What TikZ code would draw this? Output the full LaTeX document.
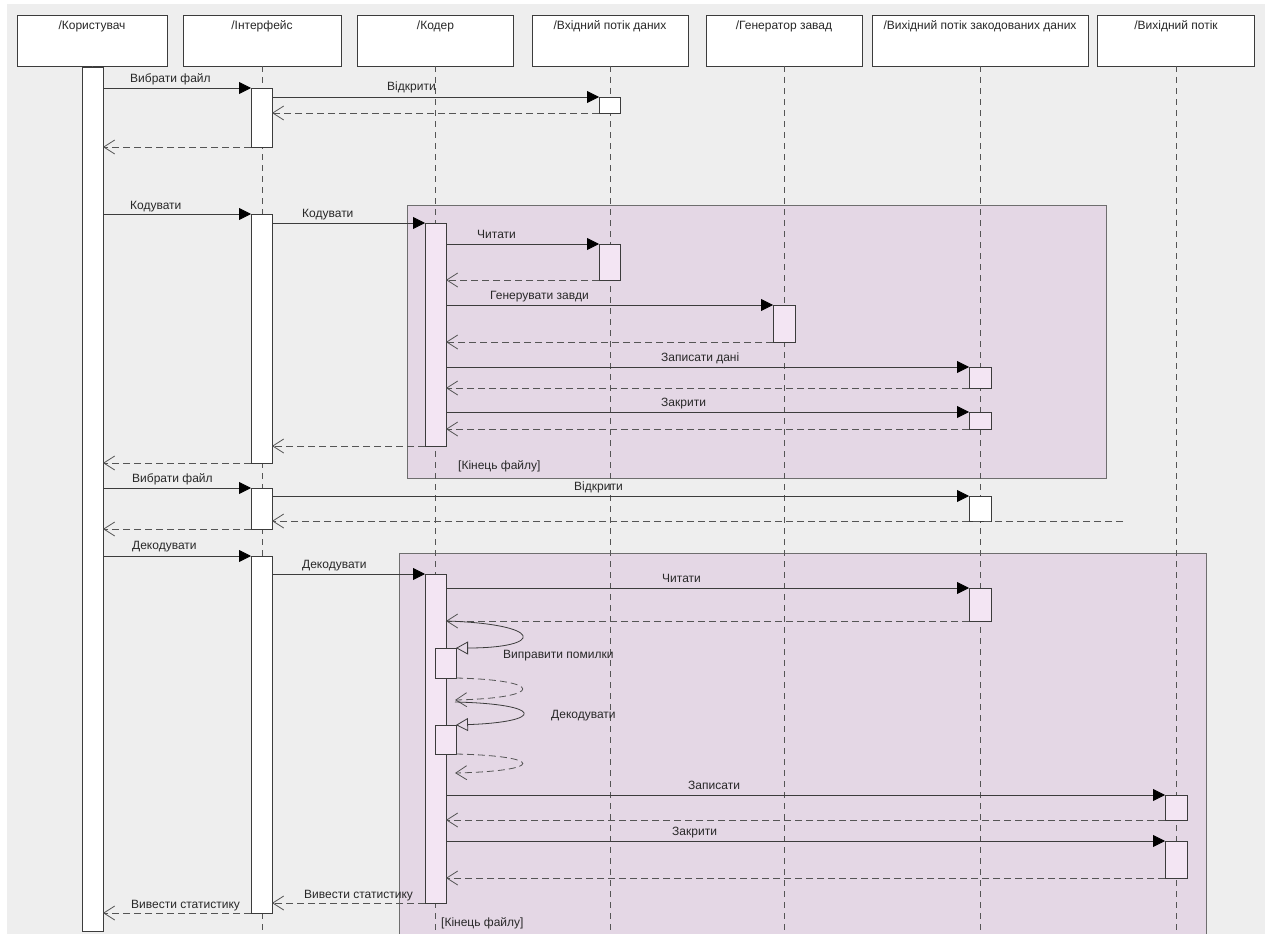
\documentclass[tikz,border=0pt]{standalone}
\usepackage{fontspec}
\setmainfont{Liberation Sans}
\usetikzlibrary{arrows.meta}
\definecolor{bgc}{RGB}{238,238,238}
\definecolor{framefill}{RGB}{228,215,229}
\definecolor{frameline}{RGB}{110,110,110}
\definecolor{pinkbar}{RGB}{243,229,243}
\definecolor{linec}{RGB}{60,60,60}
\definecolor{dashc}{RGB}{85,85,85}
\definecolor{txt}{RGB}{40,40,40}
\begin{document}
\begin{tikzpicture}[x=1pt,y=-1pt,
  header/.style={draw=linec, fill=white, line width=0.8pt, inner sep=0pt, outer sep=0pt, anchor=north west, minimum height=51pt},
  lifeline/.style={draw=dashc, line width=0.8pt, dash pattern=on 6pt off 5pt},
  barW/.style={draw=linec, fill=white, line width=0.8pt, inner sep=0pt, outer sep=0pt, anchor=north west},
  barP/.style={barW, fill=pinkbar},
  callmsg/.style={draw=linec, line width=0.8pt, -{Triangle[length=12pt,width=12pt,color=black]}},
  retmsg/.style={draw=dashc, line width=0.8pt, dash pattern=on 7pt off 4pt, -{Straight Barb[length=11pt,width=14pt]}},
  selfmsg/.style={draw=linec, line width=0.8pt, -{Triangle[open,length=12pt,width=13pt]}},
  lbl/.style={anchor=base west, inner sep=0pt, font=\fontsize{12}{14}\selectfont, text=txt},
  htxt/.style={anchor=base, inner sep=0pt, font=\fontsize{12}{14}\selectfont, text=txt},
  frm/.style={draw=frameline, line width=0.8pt}
]
\useasboundingbox (0,0) rectangle (1269,934);
\fill[white] (0,0) rectangle (1269,934);
\fill[bgc] (7,4) rectangle (1265,934);
\coordinate (bottom) at (0,934);

% frames
\fill[framefill] (407,205) rectangle (1106,478);
\draw[frm] (407,205) rectangle (1106,478);
\fill[framefill] (399,553) rectangle (1206,934);
\draw[frm] (399,934) -- (399,553) -- (1206,553) -- (1206,934);

% headers
\node[header, minimum width=150pt] (hU) at (17,15) {};
\node[header, minimum width=158pt] (hI) at (183,15) {};
\node[header, minimum width=156pt] (hK) at (357.5,15) {};
\node[header, minimum width=156pt] (hV) at (532,15) {};
\node[header, minimum width=156pt] (hG) at (706,15) {};
\node[header, minimum width=216pt] (hZ) at (872,15) {};
\node[header, minimum width=157pt] (hO) at (1097.5,15) {};
\node[htxt] at ([yshift=-15pt]hU.north) {/Користувач};
\node[htxt] at ([yshift=-15pt]hI.north) {/Інтерфейс};
\node[htxt] at ([yshift=-15pt]hK.north) {/Кодер};
\node[htxt] at ([yshift=-15pt]hV.north) {/Вхідний потік даних};
\node[htxt] at ([yshift=-15pt]hG.north) {/Генератор завад};
\node[htxt] at ([yshift=-15pt]hZ.north) {/Вихідний потік закодованих даних};
\node[htxt] at ([yshift=-15pt]hO.north) {/Вихідний потік};

% lifelines
\foreach \h in {hU,hI,hK,hV,hG,hZ,hO}
  \draw[lifeline] (\h.south) -- (\h.south |- bottom);

% activation bars
\node[barW, minimum width=21pt, minimum height=864pt] (ub) at (82,67) {};
\node[barW, minimum width=21pt, minimum height=59pt] (ib1) at (251,88) {};
\node[barW, minimum width=21pt, minimum height=16pt] (vb1) at (599,97) {};
\node[barW, minimum width=21pt, minimum height=249pt] (ib2) at (251,214) {};
\node[barP, minimum width=21pt, minimum height=223pt] (kb1) at (425,223) {};
\node[barP, minimum width=21pt, minimum height=36pt] (vb2) at (599,244) {};
\node[barP, minimum width=22pt, minimum height=37pt] (gb) at (773,305) {};
\node[barP, minimum width=22pt, minimum height=21pt] (zb1) at (969,367) {};
\node[barP, minimum width=22pt, minimum height=17pt] (zb2) at (969,412) {};
\node[barW, minimum width=21pt, minimum height=41pt] (ib3) at (251,488) {};
\node[barW, minimum width=22pt, minimum height=25pt] (zb3) at (969,496) {};
\node[barW, minimum width=21pt, minimum height=357pt] (ib4) at (251,556) {};
\node[barP, minimum width=21pt, minimum height=329pt] (kb2) at (425,574) {};
\node[barP, minimum width=22pt, minimum height=33pt] (zb4) at (969,588) {};
\node[barP, minimum width=21pt, minimum height=30pt] (sb1) at (435,648) {};
\node[barP, minimum width=21pt, minimum height=29pt] (sb2) at (435,725) {};
\node[barP, minimum width=22pt, minimum height=25pt] (ob1) at (1165,795) {};
\node[barP, minimum width=22pt, minimum height=37pt] (ob2) at (1165,841) {};

% messages, first block
\draw[callmsg] (ub.east |- ib1.north west) -- (ib1.north west);
\draw[callmsg] (ib1.east |- vb1.north west) -- (vb1.north west);
\draw[retmsg] (vb1.south west) -- (vb1.south west -| ib1.east);
\draw[retmsg] (ib1.south west) -- (ib1.south west -| ub.east);

% encoding
\draw[callmsg] (ub.east |- ib2.north west) -- (ib2.north west);
\draw[callmsg] (ib2.east |- kb1.north west) -- (kb1.north west);
\draw[callmsg] (kb1.east |- vb2.north west) -- (vb2.north west);
\draw[retmsg] (vb2.south west) -- (vb2.south west -| kb1.east);
\draw[callmsg] (kb1.east |- gb.north west) -- (gb.north west);
\draw[retmsg] (gb.south west) -- (gb.south west -| kb1.east);
\draw[callmsg] (kb1.east |- zb1.north west) -- (zb1.north west);
\draw[retmsg] (zb1.south west) -- (zb1.south west -| kb1.east);
\draw[callmsg] (kb1.east |- zb2.north west) -- (zb2.north west);
\draw[retmsg] (zb2.south west) -- (zb2.south west -| kb1.east);
\draw[retmsg] (kb1.south west) -- (kb1.south west -| ib2.east);
\draw[retmsg] (ib2.south west) -- (ib2.south west -| ub.east);

% second file
\draw[callmsg] (ub.east |- ib3.north west) -- (ib3.north west);
\draw[callmsg] (ib3.east |- zb3.north west) -- (zb3.north west);
\coordinate (r9s) at (1123,521);
\draw[retmsg] (r9s) -- (r9s -| ib3.east);
\draw[retmsg] (ib3.south west) -- (ib3.south west -| ub.east);

% decoding
\draw[callmsg] (ub.east |- ib4.north west) -- (ib4.north west);
\draw[callmsg] (ib4.east |- kb2.north west) -- (kb2.north west);
\draw[callmsg] (kb2.east |- zb4.north west) -- (zb4.north west);
\draw[retmsg] (zb4.south west) -- (zb4.south west -| kb2.east);
\draw[selfmsg] (kb2.east |- zb4.south west) .. controls (545,624) and (545,648) .. (sb1.north east);
\coordinate (s1e) at (455,700);
\draw[retmsg] (sb1.south east) .. controls (545,680) and (545,698) .. (s1e);
\coordinate (s2s) at (455,702);
\draw[selfmsg] (s2s) .. controls (545,704) and (545,722) .. (sb2.north east);
\coordinate (s2e) at (455,773);
\draw[retmsg] (sb2.south east) .. controls (545,756) and (545,771) .. (s2e);
\draw[callmsg] (kb2.east |- ob1.north west) -- (ob1.north west);
\draw[retmsg] (ob1.south west) -- (ob1.south west -| kb2.east);
\draw[callmsg] (kb2.east |- ob2.north west) -- (ob2.north west);
\draw[retmsg] (ob2.south west) -- (ob2.south west -| kb2.east);
\draw[retmsg] (kb2.south west) -- (kb2.south west -| ib4.east);
\draw[retmsg] (ib4.south west) -- (ib4.south west -| ub.east);

% labels
\node[lbl] (l1) at (130,82) {Вибрати файл};
\node[lbl] (l2) at (387,91) {Відкрити};
\node[lbl] (l3) at (130,209) {Кодувати};
\node[lbl] (l4) at (302,217) {Кодувати};
\node[lbl] (l5) at (477,238) {Читати};
\node[lbl] (l6) at (490,299) {Генерувати завди};
\node[lbl] (l7) at (661,361) {Записати дані};
\node[lbl] (l8) at (661,406) {Закрити};
\node[lbl] (l9) at (458,469) {[Кінець файлу]};
\node[lbl] (l10) at (132,482) {Вибрати файл};
\node[lbl] (l11) at (574,490) {Відкрити};
\node[lbl] (l12) at (132,549) {Декодувати};
\node[lbl] (l13) at (302,568) {Декодувати};
\node[lbl] (l14) at (662,582) {Читати};
\node[lbl] (l15) at (503,658) {Виправити помилки};
\node[lbl] (l16) at (551,718) {Декодувати};
\node[lbl] (l17) at (688,789) {Записати};
\node[lbl] (l18) at (672,835) {Закрити};
\node[lbl] (l19) at (304,898) {Вивести статистику};
\node[lbl] (l20) at (131,908) {Вивести статистику};
\node[lbl] (l21) at (441,926) {[Кінець файлу]};
\end{tikzpicture}
\end{document}
